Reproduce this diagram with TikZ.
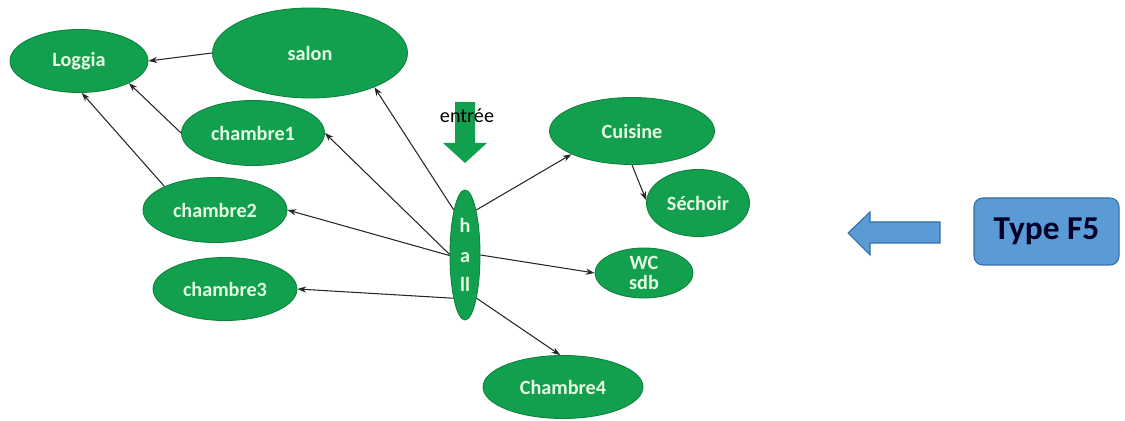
\documentclass[tikz,border=0pt]{standalone}
\usepackage{fontspec}
\setmainfont{Carlito}
\usetikzlibrary{shapes.geometric,arrows.meta}

\definecolor{piece}{RGB}{18,160,78}
\definecolor{pieceline}{RGB}{12,130,62}
\definecolor{piecetext}{RGB}{228,250,228}
\definecolor{typeblue}{RGB}{91,155,213}
\definecolor{typeline}{RGB}{52,110,170}

\begin{document}
\begin{tikzpicture}[x=0.02cm,y=-0.02cm,
room/.style={ellipse,fill=piece,draw=pieceline,line width=0.5pt,inner sep=0pt,
  text=piecetext,font=\bfseries\fontsize{11.5}{12}\selectfont,align=center},
dims/.style 2 args={minimum width=#1*0.02cm,minimum height=#2*0.02cm},
link/.style={-{Stealth[length=5pt,width=3.5pt]},line width=0.6pt,black!85}]
\useasboundingbox (0,0) rectangle (1125,421);

% les pieces
\node[room,dims={138}{63}] (loggia) at (79,61) {Loggia};
\node[room,dims={195}{90}] (salon) at (310,53) {salon};
\node[room,dims={143}{65}] (ch1) at (253,133) {chambre1};
\node[room,dims={144}{65}] (ch2) at (215,210) {chambre2};
\node[room,dims={144}{63}] (ch3) at (225,289) {chambre3};
\node[room,dims={30}{130},
  font=\bfseries\fontsize{11.5}{17}\selectfont] (hall) at (465,255) {h\\a\\ll};
\node[room,dims={165}{67}] (cuisine) at (632,131) {Cuisine};
\node[room,dims={103}{67}] (sechoir) at (698,203) {Séchoir};
\node[room,dims={98}{50},
  font=\bfseries\fontsize{11.5}{11}\selectfont] (wc) at (644,273) {WC\\sdb};
\node[room,dims={160}{63}] (ch4) at (563,387) {Chambre4};

% entree
\fill[piece] (455,102) -- (475,102) -- (475,143) -- (487,143) -- (465,163)
  -- (443,143) -- (455,143) -- cycle;
\node[font=\fontsize{11.5}{12}\selectfont] (entree) at (467,116) {entrée};

% liaisons
\draw[link] (salon.west) -- (loggia.east);
\draw[link] (ch1.west) -- (loggia.-24);
\draw[link] (ch2.155) -- (loggia.-85);
\draw[link] (hall.104) -- (salon.-28);
\draw[link] (hall.178) -- (ch1.east);
\draw[link] (hall.182) -- (ch2.east);
\draw[link] (hall.-105) -- (ch3.east);
\draw[link] (hall.76) -- (cuisine.201);
\draw[link] (cuisine.-90) -- (sechoir.177);
\draw[link] (hall.0) -- (wc.west);
\draw[link] (hall.-75) -- (ch4.95);

% type
\filldraw[fill=typeblue,draw=typeline,line width=0.6pt]
  (940,222) -- (870,222) -- (870,212) -- (848,233) -- (870,255) -- (870,243)
  -- (940,243) -- cycle;
\node[draw=typeline,fill=typeblue,line width=0.6pt,rounded corners=5pt,
  dims={145}{67},text=black!85!blue,
  font=\bfseries\fontsize{19}{20}\selectfont] (type) at (1046.5,231.5) {Type F5};
\end{tikzpicture}
\end{document}
